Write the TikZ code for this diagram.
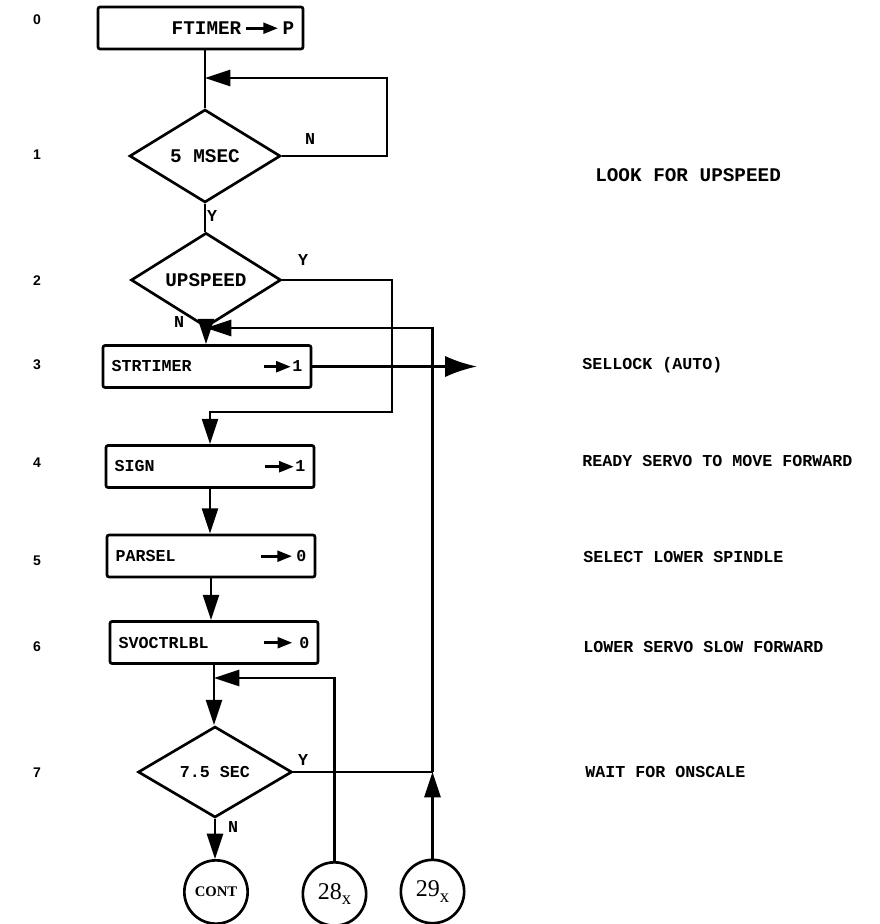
\documentclass[tikz,border=0pt]{standalone}
\usepackage{fontspec}
\setmainfont{Liberation Mono}
\newfontfamily\serifF{Liberation Serif}
\newfontfamily\sansF{Liberation Sans}
\usetikzlibrary{shapes.geometric,arrows.meta}
\newcommand{\tarr}[1][19pt]{\tikz[baseline=-0.6ex]\draw[line width=2.2pt,-{Triangle[length=11pt,width=8pt]}](0,0)--(#1,0);}
\begin{document}
\begin{tikzpicture}[x=0.75pt,y=-0.75pt,
  every node/.style={font=\fontsize{12.5}{14}\selectfont\bfseries},
  ln/.style={line width=2pt},
  arr/.style={ln,-{Triangle[length=19pt,width=12pt]}},
  bigarr/.style={ln,-{Latex[length=24pt,width=16pt]}},
  procbox/.style={draw,ln,rectangle,rounded corners=1.5pt,minimum width=156pt,minimum height=31.5pt,text width=143pt,inner xsep=6.5pt,align=left},
  decision/.style={draw,ln,diamond,inner sep=0pt},
  conn/.style={draw,ln,circle,minimum size=47.5pt,inner sep=0pt},
  lab/.style={inner sep=0pt},
  rowno/.style={inner sep=0pt,font=\sansF\bfseries\fontsize{10.5}{12}\selectfont},
  note/.style={anchor=west,inner sep=0pt},
  big/.style={font=\fontsize{14.5}{16}\selectfont\bfseries}]

\useasboundingbox (0,0) rectangle (879,924);

% process boxes
\node[procbox, big, minimum width=153.75pt, text width=140.75pt] (b0) at (200.5,28) {\hfill\raisebox{-3pt}{FTIMER\,\tarr[24pt]\,P}\hspace{5pt}};
\node[procbox] (str) at (207,366.5) {STRTIMER\hfill\tarr[20pt]1\hspace{14pt}};
\node[procbox] (sign) at (210,466.5) {SIGN\hfill\tarr[22pt]1\hspace{10.5pt}};
\node[procbox] (parsel) at (211,556) {PARSEL\hfill\tarr[23pt]\,0\hspace{10pt}};
\node[procbox] (svo) at (214,642.5) {SVOCTRLBL\hfill\tarr[21pt]\ 0\hspace{11.5pt}};

% decisions
\node[decision, big, minimum width=113.25pt, minimum height=69.75pt] (d1) at (205,156) {5 MSEC};
\node[decision, big, minimum width=112.5pt, minimum height=63.75pt] (d2) at (206,280) {UPSPEED};
\node[decision, minimum width=115.5pt, minimum height=68.25pt] (d3) at (215,772) {7.5 SEC};

% connectors (circles)
\node[conn, font=\serifF\bfseries\fontsize{11}{12}\selectfont] (cont) at (216,892) {CONT};
\node[conn, font=\serifF\fontsize{18}{20}\selectfont] (c28) at (334.5,894) {28\raisebox{-4pt}{\fontsize{14}{14}\selectfont x}};
\node[conn, font=\serifF\fontsize{18}{20}\selectfont] (c29) at (432.5,891.5) {29\raisebox{-4pt}{\fontsize{14}{14}\selectfont x}};

% helper coordinates
\coordinate (j0) at (205,78);
\coordinate (c1) at (387,78);
\coordinate (c2) at (392,412);
\coordinate (sel) at (477,366.5);
\coordinate (j2) at (206,328);
\coordinate (k2) at (432.5,328);
\coordinate (j6) at (214,678);
\coordinate (k6) at (334.5,678);
\coordinate (j7) at (432.5,772);

% flow lines
\draw[ln] (b0.south -| d1.north) -- (d1.north);
\draw[arr] (d1.east) -| (c1) -- (j0);
\draw[ln] (d1.south) -- (d1.south |- d2.north);
\draw[arr] (d2.south) -- (d2.south |- str.north);
\draw[arr] (d2.east) -| (c2) -| (sign.north);
\draw[bigarr] (str.east) -- (sel);
\draw[arr] (sign.south) -- (sign.south |- parsel.north);
\draw[arr] (parsel.south) -- (parsel.south |- svo.north);
\draw[arr] (svo.south) -- (svo.south |- d3.north);
\draw[arr] (c28.north) -- (k6) -- (j6);
\draw[arr] (d3.south) -- (d3.south |- cont.north);
\draw[arr] (c29.north) -- (j7);
\draw[ln] (d3.east) -- (j7);
\draw[arr] (j7) -- (k2) -- (j2);

% branch labels
\node[lab] (n1) at (310,139) {N};
\node[lab] (y1) at (212,216) {Y};
\node[lab] (y2) at (303,260) {Y};
\node[lab] (n2) at (179,322) {N};
\node[lab] (y3) at (303,760) {Y};
\node[lab] (n3) at (233,827) {N};

% row numbers
\node[rowno] (r0) at (37,20) {0};
\node[rowno] (r1) at (37,155) {1};
\node[rowno] (r2) at (37,281) {2};
\node[rowno] (r3) at (37,365) {3};
\node[rowno] (r4) at (37,463) {4};
\node[rowno] (r5) at (37,561) {5};
\node[rowno] (r6) at (37,647) {6};
\node[rowno] (r7) at (37,773) {7};

% comments
\node[note, big] (t1) at (595,175) {LOOK FOR UPSPEED};
\node[note] (t3) at (582,365) {SELLOCK (AUTO)};
\node[note] (t4) at (582,461) {READY SERVO TO MOVE FORWARD};
\node[note] (t5) at (583,557) {SELECT LOWER SPINDLE};
\node[note] (t6) at (583,647) {LOWER SERVO SLOW FORWARD};
\node[note] (t7) at (585,772) {WAIT FOR ONSCALE};
\end{tikzpicture}
\end{document}
